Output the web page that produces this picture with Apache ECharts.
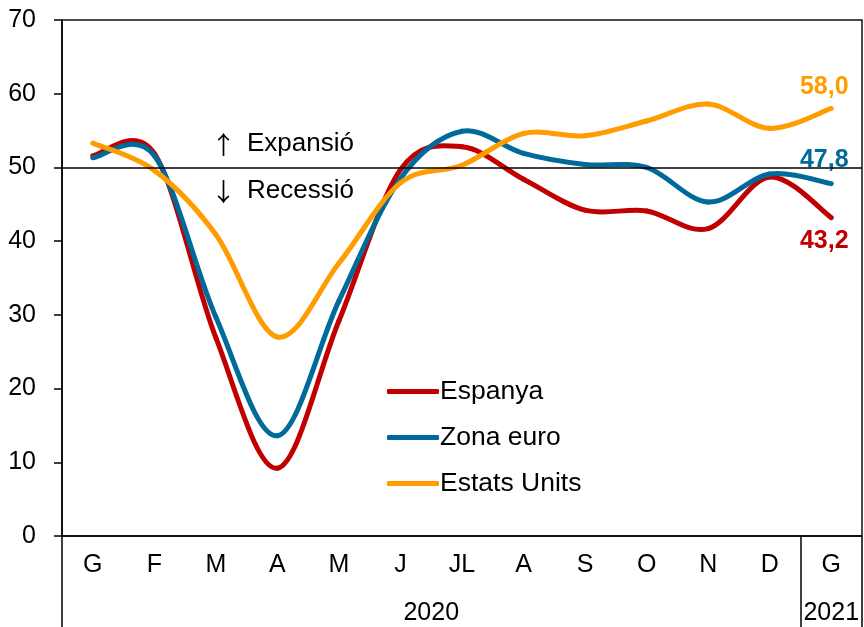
<!DOCTYPE html>
<html>
<head>
<meta charset="utf-8">
<script src="https://cdn.jsdelivr.net/npm/echarts@6/dist/echarts.min.js"></script>
<style>
html,body{margin:0;padding:0;background:#fff;}
#chart{width:864px;height:627px;}
</style>
</head>
<body>
<div id="chart"></div>
<script>
var categories = ['G','F','M','A','M','J','JL','A','S','O','N','D','G'];
var yearLabels = ['2020','2021'];
var espanya = [51.6, 51.9, 26.9, 9.2, 29.2, 49.7, 52.8, 48.4, 44.2, 44.1, 41.7, 48.7, 43.2];
var zonaEuro = [51.3, 51.6, 29.7, 13.6, 31.9, 48.5, 54.9, 51.9, 50.4, 50.0, 45.3, 49.1, 47.8];
var estatsUnits = [53.3, 49.6, 40.9, 27.0, 37.0, 47.9, 50.3, 54.6, 54.3, 56.3, 58.6, 55.3, 58.0];
var yTicks = [0,10,20,30,40,50,60,70];
var threshold = 50;

var FONT = 'Liberation Sans, Arial, sans-serif';
var C_RED = '#c00000', C_BLUE = '#006a9b', C_ORANGE = '#ff9c00';
var lineW = 5;

// Smooth line drawn segment by segment (Catmull-Rom style bezier, like spreadsheet smoothing)
function makeSeries(name, values, color, labelDy, z, extra) {
  var s = {
    name: name, type: 'custom', z: z,
    xAxisIndex: 0, yAxisIndex: 0,
    itemStyle: {color: color},
    encode: {x: 0, y: 1},
    data: values.map(function (v, i) { return [i, v]; }),
    renderItem: function (params, api) {
      var i = params.dataIndex, n = values.length;
      var P = function (k) { k = Math.max(0, Math.min(n - 1, k)); return api.coord([k, values[k]]); };
      var children = [];
      if (i < n - 1) {
        var p0 = P(i - 1), p1 = P(i), p2 = P(i + 1), p3 = P(i + 2);
        children.push({
          type: 'bezierCurve',
          shape: {
            x1: p1[0], y1: p1[1], x2: p2[0], y2: p2[1],
            cpx1: p1[0] + (p2[0] - p0[0]) / 6, cpy1: p1[1] + (p2[1] - p0[1]) / 6,
            cpx2: p2[0] - (p3[0] - p1[0]) / 6, cpy2: p2[1] - (p3[1] - p1[1]) / 6
          },
          style: {stroke: color, lineWidth: lineW, fill: null, lineCap: 'round', lineJoin: 'round'}
        });
      } else {
        var pe = P(i);
        children.push({
          type: 'text',
          x: pe[0] - 7, y: pe[1] + labelDy,
          style: {
            text: Number(values[i]).toFixed(1).replace('.', ','),
            fill: color, font: 'bold 25px ' + FONT, align: 'center', verticalAlign: 'middle'
          }
        });
      }
      return {type: 'group', children: children};
    }
  };
  if (extra) for (var k in extra) s[k] = extra[k];
  return s;
}

var chart = echarts.init(document.getElementById('chart'), null, {renderer: 'canvas'});
chart.setOption({
  animation: false,
  backgroundColor: '#fff',
  grid: {left: 62, right: 2, top: 20, bottom: 91, show: true, borderColor: '#111', borderWidth: 1.5, containLabel: false},
  legend: {
    orient: 'vertical', left: 382, top: 373, itemGap: 19,
    itemWidth: 52, itemHeight: 5, icon: 'roundRect',
    textStyle: {fontSize: 26.5, fontFamily: FONT, color: '#000', padding: [0,0,0,-4]},
    data: ['Espanya', 'Zona euro', 'Estats Units']
  },
  xAxis: [{
    type: 'category', data: categories, boundaryGap: true,
    axisLine: {lineStyle: {color: '#000', width: 1.5}},
    axisTick: {show: false},
    axisLabel: {color: '#000', fontSize: 25, fontFamily: FONT, margin: 17, interval: 0},
    splitLine: {show: false}
  }, {
    type: 'value', min: 0, max: 13, position: 'bottom',
    axisLine: {show: false},
    axisTick: {show: true, customValues: [0, 12, 13], length: 91, inside: false, lineStyle: {color: '#000', width: 1.5}},
    axisLabel: {show: true, customValues: [6, 12.5], color: '#000', fontSize: 25, fontFamily: FONT, margin: 65,
      formatter: function (v) { return v < 12 ? yearLabels[0] : yearLabels[1]; }},
    splitLine: {show: false}
  }],
  yAxis: {
    type: 'value', min: yTicks[0], max: yTicks[yTicks.length - 1], interval: 10,
    axisLine: {show: true, lineStyle: {color: '#000', width: 1.5}},
    axisTick: {show: true, length: 8, inside: false, lineStyle: {color: '#000', width: 1.5}},
    axisLabel: {color: '#000', fontSize: 25, fontFamily: FONT, margin: 26},
    splitLine: {show: false}
  },
  graphic: [
    {type: 'text', left: 211, top: 131, style: {text: '{a|↑}Expansió', fontSize: 26, fontFamily: FONT, fill: '#000',
      rich: {a: {fontFamily: 'Noto Sans CJK SC', fontSize: 25, fill: '#000', padding: [0, 11, 0, 0]}}}},
    {type: 'text', left: 211, top: 178, style: {text: '{a|↓}Recessió', fontSize: 26, fontFamily: FONT, fill: '#000',
      rich: {a: {fontFamily: 'Noto Sans CJK SC', fontSize: 25, fill: '#000', padding: [0, 11, 0, 0]}}}}
  ],
  series: [
    makeSeries('Espanya', espanya, C_RED, 24, 2, {
      markLine: {
        silent: true, symbol: 'none', label: {show: false},
        lineStyle: {color: '#000', width: 1.5, type: 'solid'},
        data: [{yAxis: threshold}]
      }
    }),
    makeSeries('Zona euro', zonaEuro, C_BLUE, -24, 3),
    makeSeries('Estats Units', estatsUnits, C_ORANGE, -21, 4)
  ]
});
</script>
</body>
</html>
